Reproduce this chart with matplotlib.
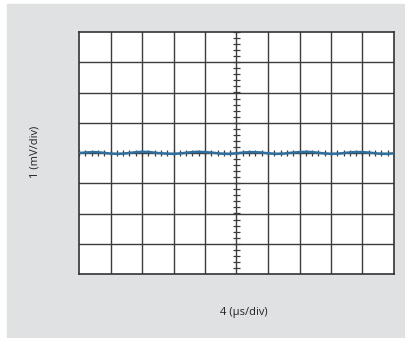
import matplotlib.pyplot as plt
import numpy as np
from matplotlib.patches import Rectangle

# scope screen: 10 horizontal x 8 vertical divisions
n_xdiv = 10
n_ydiv = 8
x_label = '4 (µs/div)'
y_label = '1 (mV/div)'

# trace, in divisions, sampled every 0.25 div
trace_x = np.arange(0, 10.01, 0.25)
trace_y = [0.00, 0.02, 0.03, 0.01, -0.02, -0.03, -0.01, 0.02, 0.04, 0.03,
           0.00, -0.02, -0.03, -0.01, 0.02, 0.04, 0.03, 0.01, -0.02, -0.03,
           -0.01, 0.02, 0.03, 0.02, -0.01, -0.03, -0.02, 0.01, 0.03, 0.04,
           0.02, -0.01, -0.03, -0.02, 0.01, 0.03, 0.03, 0.01, -0.02, -0.03, -0.01]

fig = plt.figure(figsize=(4.06, 3.38), dpi=100)
fig.patch.set_facecolor('white')
# gray panel behind the screen
fig.add_artist(Rectangle((7 / 406, 0), 1 - 7 / 406, 1 - 4 / 338,
                         transform=fig.transFigure, color='#e0e1e2', zorder=0))

ax = fig.add_axes([79 / 406, 64 / 338, 315 / 406, 242 / 338])
ax.set_facecolor('white')
ax.set_xlim(0, n_xdiv)
ax.set_ylim(-n_ydiv / 2, n_ydiv / 2)

grid_col = '#3c3c3c'
for x in range(1, n_xdiv):
    ax.axvline(x, color=grid_col, lw=1.0)
for y in range(-n_ydiv // 2 + 1, n_ydiv // 2):
    ax.axhline(y, color=grid_col, lw=1.0)

# minor ticks on the centre lines
mx = np.arange(0, n_xdiv + 0.001, 0.2)
my = np.arange(-n_ydiv / 2, n_ydiv / 2 + 0.001, 0.2)
ax.vlines(mx, -0.1, 0.1, color=grid_col, lw=0.9)
ax.hlines(my, n_xdiv / 2 - 0.1, n_xdiv / 2 + 0.1, color=grid_col, lw=0.9)

ax.plot(trace_x, trace_y, color='#2f6f9f', lw=1.8, zorder=5)

for s in ax.spines.values():
    s.set_color('#333333')
    s.set_linewidth(1.2)
ax.set_xticks([])
ax.set_yticks([])

fig.text(244 / 406, 1 - 312 / 338, x_label, ha='center', va='center',
         fontsize=8, family='Open Sans', color='#222222')
fig.text(35 / 406, 1 - 152 / 338, y_label, ha='center', va='center',
         rotation=90, fontsize=8, family='Open Sans', color='#222222')

fig.savefig('out.png', dpi=100)
